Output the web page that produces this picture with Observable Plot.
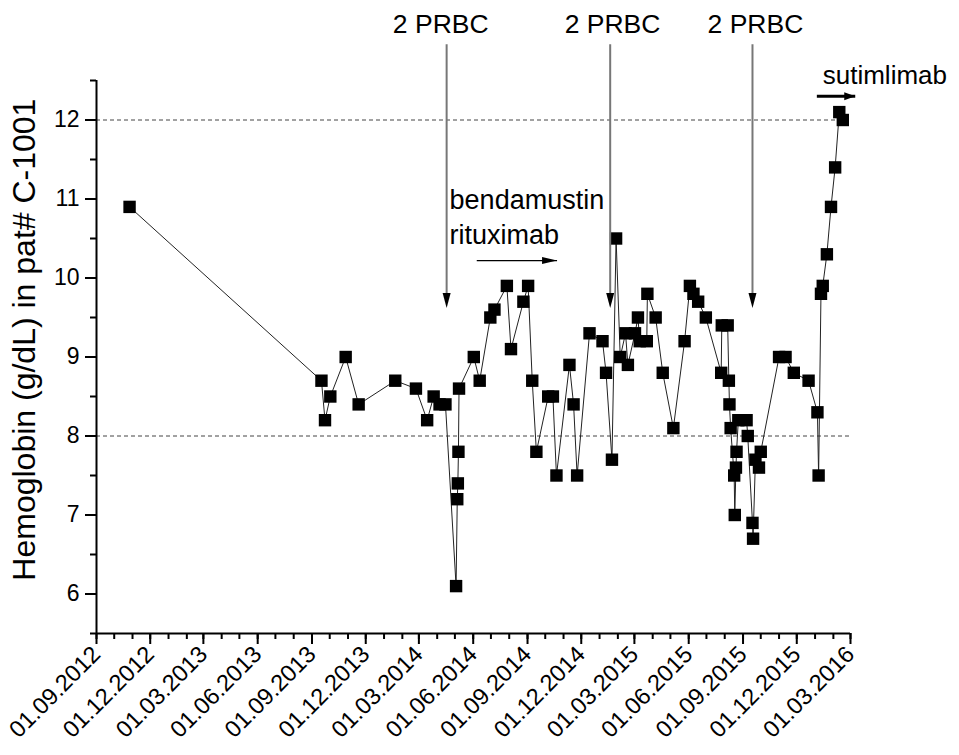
<!DOCTYPE html>
<html><head><meta charset="utf-8">
<script src="https://cdn.jsdelivr.net/npm/d3@7"></script>
<script src="https://cdn.jsdelivr.net/npm/@observablehq/plot@0.6"></script>
<style>
body{margin:0;background:#fff;}
svg{font-family:"Liberation Sans",Arial,Helvetica,sans-serif;}
</style>
</head><body><div id="chart"></div>
<script>
// Measurement dates and hemoglobin values (g/dL)
const dates = [
 "2012-10-27",
 "2013-09-17","2013-09-23","2013-10-02","2013-10-28","2013-11-19",
 "2014-01-20","2014-02-24","2014-03-15","2014-03-26","2014-04-05","2014-04-15",
 "2014-05-03","2014-05-05","2014-05-06","2014-05-07","2014-05-08",
 "2014-06-02","2014-06-12","2014-06-30","2014-07-07","2014-07-28","2014-08-04",
 "2014-08-25","2014-09-02","2014-09-09","2014-09-16","2014-10-06","2014-10-14",
 "2014-10-20","2014-11-11","2014-11-18","2014-11-24","2014-12-15",
 "2015-01-06","2015-01-12","2015-01-22","2015-01-29","2015-02-05","2015-02-14",
 "2015-02-18","2015-03-02","2015-03-07","2015-03-10","2015-03-22","2015-03-23",
 "2015-04-06","2015-04-18","2015-05-06","2015-05-25","2015-06-03","2015-06-09",
 "2015-06-17","2015-06-30","2015-07-26","2015-07-27","2015-08-06","2015-08-08",
 "2015-08-09","2015-08-11","2015-08-17","2015-08-18","2015-08-20","2015-08-21",
 "2015-08-24","2015-09-07","2015-09-09","2015-09-17","2015-09-18","2015-09-22",
 "2015-09-28","2015-10-01","2015-11-01","2015-11-12","2015-11-26","2015-12-21",
 "2016-01-05","2016-01-07","2016-01-11","2016-01-14","2016-01-21","2016-01-28",
 "2016-02-04","2016-02-11","2016-02-17"
];
const hb = [
 10.9,
 8.7,8.2,8.5,9.0,8.4,
 8.7,8.6,8.2,8.5,8.4,8.4,
 6.1,7.2,7.4,7.8,8.6,
 9.0,8.7,9.5,9.6,9.9,9.1,
 9.7,9.9,8.7,7.8,8.5,8.5,
 7.5,8.9,8.4,7.5,9.3,
 9.2,8.8,7.7,10.5,9.0,9.3,
 8.9,9.3,9.5,9.2,9.2,9.8,
 9.5,8.8,8.1,9.2,9.9,9.8,
 9.7,9.5,8.8,9.4,9.4,8.7,
 8.4,8.1,7.5,7.0,7.6,7.8,
 8.2,8.2,8.0,6.9,6.7,7.7,
 7.6,7.8,9.0,9.0,8.8,8.7,
 8.3,7.5,9.8,9.9,10.3,10.9,
 11.4,12.1,12.0
];

// Reference lines
const refLines = [8, 12];

// Axis ticks
const xTickLabels = [
 "01.09.2012","01.12.2012","01.03.2013","01.06.2013","01.09.2013","01.12.2013",
 "01.03.2014","01.06.2014","01.09.2014","01.12.2014","01.03.2015","01.06.2015",
 "01.09.2015","01.12.2015","01.03.2016"
];
const yMajorTicks = [6, 7, 8, 9, 10, 11, 12];
const yMinorTicks = [5.5, 6.5, 7.5, 8.5, 9.5, 10.5, 11.5, 12.5];

// Annotations
const prbcLabel = "2 PRBC";
const prbcArrowDates = ["2014-04-17", "2015-01-19", "2015-09-17"];
const prbcTextDates = ["2014-04-07", "2015-01-23", "2015-09-22"];
const prbcTop = 12.96, prbcTip = 9.62, prbcTextY = 13.10;
const bendaText = "bendamustin\nrituximab";
const bendaTextDate = "2014-04-22", bendaTextY = 10.43;
const bendaArrow = {x1: "2014-06-07", x2: "2014-10-21", y: 10.22};
const sutiText = "sutimlimab";
const sutiTextDate = "2016-01-14", sutiTextY = 12.455;
const sutiArrow = {x1: "2016-01-04", x2: "2016-03-09", y: 12.30};
const yLabel = "Hemoglobin (g/dL) in pat# C-1001";

const parse = d3.utcParse("%Y-%m-%d");
const toDate = s => { const d = parse(s); return new Date(d.getUTCFullYear(), d.getUTCMonth(), d.getUTCDate()); };
const parseLabel = s => { const [dd, mm, yy] = s.split(".").map(Number); return new Date(yy, mm - 1, dd); };
const data = dates.map((d, i) => ({date: toDate(d), hb: hb[i]}));

const xMajorTicks = xTickLabels.map(parseLabel);
const x0 = xMajorTicks[0], x1 = xMajorTicks[xMajorTicks.length - 1];
const xMinorTicks = d3.timeMonth.range(x0, new Date(x1.getTime() + 1));

const headDown = {draw(ctx) { ctx.moveTo(0, 0); ctx.lineTo(-4, -15); ctx.lineTo(4, -15); ctx.closePath(); }};
const headRight = (len, w) => ({draw(ctx) { ctx.moveTo(0, 0); ctx.lineTo(-len, -w); ctx.lineTo(-len, w); ctx.closePath(); }});

const fmt = d3.timeFormat("%d.%m.%Y");

const chart = Plot.plot({
  width: 959,
  height: 755,
  marginLeft: 96,
  marginRight: 109,
  marginTop: 80,
  marginBottom: 122,
  style: {fontFamily: '"Liberation Sans", Arial, sans-serif', background: "white", overflow: "visible"},
  x: {type: "time", domain: [x0, x1]},
  y: {domain: [5.5, 12.5]},
  marks: [
    Plot.ruleY(refLines, {stroke: "#444", strokeWidth: 1, strokeDasharray: "4,3"}),
    Plot.line(data, {x: "date", y: "hb", stroke: "#222", strokeWidth: 1}),
    Plot.dot(data, {x: "date", y: "hb", symbol: "square", r: 7.0, fill: "black", stroke: "none"}),
    // axes
    Plot.axisY(yMajorTicks, {tickSize: 11, tickPadding: 6, fontSize: 23, tickFormat: d3.format("d"), strokeWidth: 2, stroke: "black", color: "black", label: null}),
    Plot.axisY(yMinorTicks, {tickSize: 6, text: null, strokeWidth: 2, stroke: "black", label: null}),
    Plot.axisX(xMajorTicks, {tickSize: 11, tickRotate: -45, tickFormat: fmt, fontSize: 23.5, strokeWidth: 2, stroke: "black", label: null, tickPadding: 6}),
    Plot.axisX(xMinorTicks, {tickSize: 6, text: null, strokeWidth: 2, stroke: "black", label: null}),
    Plot.ruleX([x0], {y1: 5.5, y2: 12.5, stroke: "black", strokeWidth: 2}),
    Plot.ruleY([5.5], {x1: x0, x2: x1, stroke: "black", strokeWidth: 2}),
    // y label
    Plot.text([yLabel], {frameAnchor: "left", y: 9.22, dx: -72, rotate: -90, fontSize: 32, fill: "black", textAnchor: "middle"}),
    // PRBC annotations
    Plot.link(prbcArrowDates, {x1: d => toDate(d), x2: d => toDate(d), y1: prbcTop, y2: prbcTip + 0.1, stroke: "#777", strokeWidth: 2}),
    Plot.dot(prbcArrowDates, {x: d => toDate(d), y: prbcTip, symbol: headDown, fill: "black", stroke: "none", r: 5}),
    Plot.text(prbcTextDates, {x: d => toDate(d), y: prbcTextY, text: () => prbcLabel, fontSize: 26.5, lineAnchor: "bottom", fill: "black"}),
    // bendamustin/rituximab
    Plot.text([bendaText], {x: toDate(bendaTextDate), y: bendaTextY, textAnchor: "start", lineAnchor: "bottom", fontSize: 27, lineHeight: 1.3, fill: "black"}),
    Plot.link([bendaArrow], {x1: d => toDate(d.x1), x2: d => toDate(d.x2), y1: d => d.y, y2: d => d.y, stroke: "black", strokeWidth: 1.2}),
    Plot.dot([bendaArrow], {x: d => toDate(d.x2), y: d => d.y, symbol: headRight(15, 3.5), fill: "black", stroke: "none", r: 5}),
    // sutimlimab
    Plot.text([sutiText], {x: toDate(sutiTextDate), y: sutiTextY, textAnchor: "start", lineAnchor: "bottom", fontSize: 26, fill: "black"}),
    Plot.link([sutiArrow], {x1: d => toDate(d.x1), x2: d => toDate(d.x2), y1: d => d.y, y2: d => d.y, stroke: "black", strokeWidth: 3}),
    Plot.dot([sutiArrow], {x: d => toDate(d.x2), y: d => d.y, symbol: headRight(11, 4), fill: "black", stroke: "none", r: 5})
  ]
});
document.getElementById("chart").appendChild(chart);
</script>
</body></html>
